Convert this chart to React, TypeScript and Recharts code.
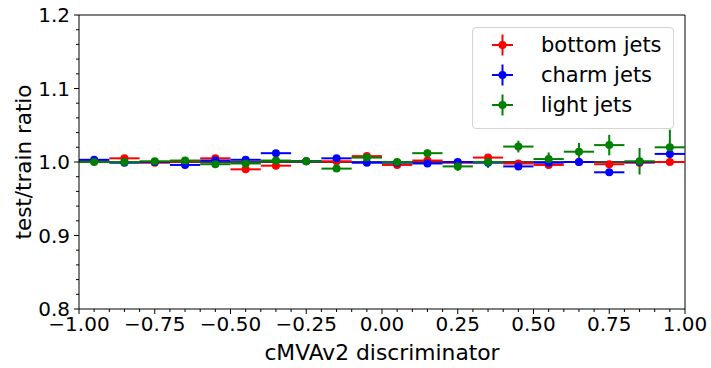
import { ScatterChart, Scatter, XAxis, YAxis, ErrorBar, ReferenceLine, Legend, Label } from 'recharts';

const binCenters = [-0.95, -0.85, -0.75, -0.65, -0.55, -0.45, -0.35, -0.25, -0.15, -0.05, 0.05, 0.15, 0.25, 0.35, 0.45, 0.55, 0.65, 0.75, 0.85, 0.95];
const binHalfWidth = [0.05, 0.05, 0.05, 0.05, 0.05, 0.05, 0.05, 0.05, 0.05, 0.05, 0.05, 0.05, 0.05, 0.05, 0.05, 0.05, 0.05, 0.05, 0.05, 0.05];

const bottomRatio = [1.001, 1.005, 0.999, 1.001, 1.005, 0.99, 0.995, 1.001, 1.001, 1.008, 0.996, 1.002, 0.999, 1.006, 0.998, 0.996, 1.0, 0.997, 0.999, 1.0];
const bottomErr = [0.001, 0.001, 0.001, 0.001, 0.002, 0.002, 0.002, 0.002, 0.002, 0.002, 0.002, 0.002, 0.002, 0.002, 0.002, 0.002, 0.002, 0.003, 0.003, 0.003];

const charmRatio = [1.003, 0.999, 1.0, 0.996, 1.002, 1.003, 1.012, 1.001, 1.005, 0.999, 0.999, 0.998, 1.0, 0.999, 0.994, 0.999, 1.0, 0.986, 1.0, 1.011];
const charmErr = [0.001, 0.001, 0.001, 0.002, 0.002, 0.002, 0.002, 0.002, 0.002, 0.002, 0.002, 0.002, 0.002, 0.002, 0.002, 0.003, 0.003, 0.003, 0.003, 0.003];

const lightRatio = [1.0, 1.0, 1.001, 1.002, 0.997, 0.998, 1.002, 1.001, 0.991, 1.006, 1.0, 1.012, 0.994, 1.0, 1.021, 1.004, 1.014, 1.023, 1.001, 1.02];
const lightErr = [0.001, 0.001, 0.001, 0.002, 0.002, 0.002, 0.002, 0.002, 0.003, 0.003, 0.003, 0.005, 0.006, 0.008, 0.008, 0.009, 0.012, 0.014, 0.018, 0.024];

const seriesNames = ['bottom jets', 'charm jets', 'light jets'];
const seriesColors = ['#ff0000', '#0000ff', '#008000'];

const xMajorTicks = [-1, -0.75, -0.5, -0.25, 0, 0.25, 0.5, 0.75, 1];
const yMajorTicks = [0.8, 0.9, 1.0, 1.1, 1.2];

const buildRows = (ratio: number[], err: number[]) =>
  binCenters.map((x, i) => ({ x, y: ratio[i], xErr: binHalfWidth[i], yErr: err[i] }));

const series = [
  buildRows(bottomRatio, bottomErr),
  buildRows(charmRatio, charmErr),
  buildRows(lightRatio, lightErr),
];

// minor ticks: x every 0.05, y every 0.02
const xTicks: number[] = [];
for (let i = 0; i <= 40; i++) xTicks.push(Math.round((-1 + i * 0.05) * 100) / 100);
const yTicks: number[] = [];
for (let i = 0; i <= 20; i++) yTicks.push(Math.round((0.8 + i * 0.02) * 100) / 100);

const FONT = 'DejaVu Sans, sans-serif';
const isMajor = (v: number, list: number[]) => list.some((t) => Math.abs(t - v) < 1e-6);
const minus = (s: string) => s.replace('-', '\u2212');

const XTick = (props: any) => {
  const { x, y, payload } = props;
  const major = isMajor(payload.value, xMajorTicks);
  return (
    <g>
      <line x1={x} x2={x} y1={y} y2={y + (major ? 5 : 3)} stroke="#000" strokeWidth={1} />
      {major && (
        <text x={x} y={y + 8} dy="0.72em" textAnchor="middle" fontSize={20} fontFamily={FONT} fill="#000">
          {minus(payload.value.toFixed(2))}
        </text>
      )}
    </g>
  );
};

const YTick = (props: any) => {
  const { x, y, payload } = props;
  const major = isMajor(payload.value, yMajorTicks);
  return (
    <g>
      <line x1={x} x2={x - (major ? 5 : 3)} y1={y} y2={y} stroke="#000" strokeWidth={1} />
      {major && (
        <text x={x - 9} y={y} dy="0.36em" textAnchor="end" fontSize={20} fontFamily={FONT} fill="#000">
          {payload.value.toFixed(1)}
        </text>
      )}
    </g>
  );
};

const Dot = (color: string) => (props: any) => <circle cx={props.cx} cy={props.cy} r={4} fill={color} />;

const LegendBox = () => (
  <div
    style={{
      border: '1px solid #d4d4d4',
      borderRadius: 4,
      background: 'rgba(255,255,255,0.8)',
      padding: '2px 0 8px 0',
      width: 200,
      fontFamily: FONT,
      fontSize: 21,
    }}
  >
    {seriesNames.map((name, i) => (
      <div key={name} style={{ display: 'flex', alignItems: 'center', height: 30 }}>
        <svg width={60} height={30}>
          <line x1={19} x2={40} y1={15} y2={15} stroke={seriesColors[i]} strokeWidth={2} />
          <line x1={29.5} x2={29.5} y1={4.5} y2={25.5} stroke={seriesColors[i]} strokeWidth={2} />
          <circle cx={29.5} cy={15} r={4} fill={seriesColors[i]} />
        </svg>
        <span style={{ marginLeft: 8, color: '#000' }}>{name}</span>
      </div>
    ))}
  </div>
);

export default function App() {
  return (
    <div style={{ position: 'absolute', left: 0, top: 0, width: 711, height: 368, background: '#fff' }}>
      <ScatterChart width={711} height={368} margin={{ top: 15, right: 26, bottom: 0, left: 0 }}>
        <XAxis
          type="number"
          dataKey="x"
          domain={[-1, 1]}
          allowDataOverflow
          ticks={xTicks}
          interval={0}
          tick={<XTick />}
          tickLine={false}
          tickSize={0}
          tickMargin={0}
          height={59}
          axisLine={{ stroke: '#000', strokeWidth: 1 }}
        >
          <Label
            content={(p: any) => (
              <text x={p.viewBox.x + p.viewBox.width / 2} y={360} textAnchor="middle" fontSize={21.8} fontFamily={FONT} fill="#000">
                cMVAv2 discriminator
              </text>
            )}
          />
        </XAxis>
        <YAxis
          type="number"
          dataKey="y"
          domain={[0.8, 1.2]}
          allowDataOverflow
          ticks={yTicks}
          interval={0}
          tick={<YTick />}
          tickLine={false}
          tickSize={0}
          tickMargin={0}
          width={79}
          axisLine={{ stroke: '#000', strokeWidth: 1 }}
        >
          <Label
            content={(p: any) => {
              const cy = p.viewBox.y + p.viewBox.height / 2;
              return (
                <text x={31} y={cy} transform={`rotate(-90 31 ${cy})`} textAnchor="middle" fontSize={21.5} fontFamily={FONT} fill="#000">
                  test/train ratio
                </text>
              );
            }}
          />
        </YAxis>
        <ReferenceLine y={1.2} stroke="#000" strokeWidth={1} />
        <ReferenceLine x={1} stroke="#000" strokeWidth={1} />
        <ReferenceLine y={1} stroke="#000" strokeWidth={1.3} />
        {series.map((rows, i) => (
          <Scatter
            key={seriesNames[i]}
            name={seriesNames[i]}
            data={rows}
            fill={seriesColors[i]}
            shape={Dot(seriesColors[i])}
            isAnimationActive={false}
          >
            <ErrorBar dataKey="xErr" direction="x" width={0} stroke={seriesColors[i]} strokeWidth={2} isAnimationActive={false} />
            <ErrorBar dataKey="yErr" direction="y" width={0} stroke={seriesColors[i]} strokeWidth={2} isAnimationActive={false} />
          </Scatter>
        ))}
        <Legend
          layout="vertical"
          align="center"
          verticalAlign="middle"
          content={<LegendBox />}
          wrapperStyle={{ position: 'absolute', left: 472, top: 27, width: 202 }}
        />
      </ScatterChart>
    </div>
  );
}
